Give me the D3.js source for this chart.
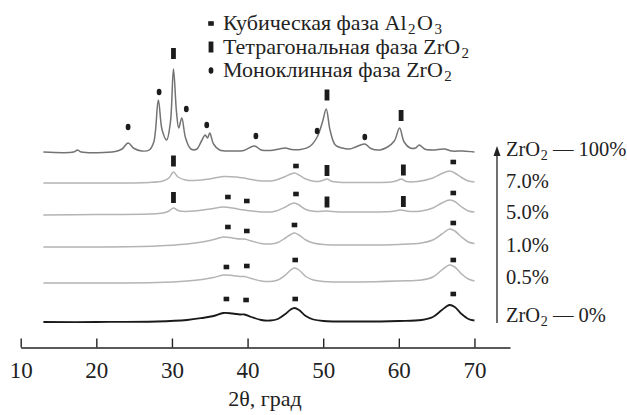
<!DOCTYPE html>
<html>
<head>
<meta charset="utf-8">
<script src="https://cdn.jsdelivr.net/npm/d3@7.9.0/dist/d3.min.js"></script>
<style>
  html, body { margin: 0; padding: 0; background: #fff; }
  svg { display: block; font-family: "Liberation Serif", "DejaVu Serif", serif; }
</style>
</head>
<body>
<svg id="chart" width="627" height="415"></svg>
<script>
// sample labels, bottom to top
const samples = ['ZrO2 — 0%', '0.5%', '1.0%', '5.0%', '7.0%', 'ZrO2 — 100%'];
// vertical stacking offset of each pattern (a.u.)
const offsets = [0, 39, 75, 108, 139, 170];
const colors = ['#1a1a1a', '#b4b4b4', '#b4b4b4', '#b4b4b4', '#b4b4b4', '#737373'];

// [2θ, intensity]
const zr0 = [[13,0],[20,0],[28,0.5],[32,2],[34,4],[35.5,6],[36.8,9],[38,8.5],[39,7.5],[39.6,7.5],[40.5,5],[41.8,2],[43,1.5],[44,3],[45,8],[45.7,12.5],[46.2,14],[46.8,12],[47.7,6],[48.7,2.5],[50,1],[55,0.5],[60,1],[63,2],[64.5,5],[65.7,12],[66.7,17],[67.4,15],[68.3,8],[69.2,3],[70,1.5]];
const zr05 = [[13,0],[20,0],[28,0.5],[32,2],[34,3.5],[35.5,5.5],[36.8,8],[38,7.5],[39,6.5],[39.6,6.5],[40.5,4.5],[41.8,2],[43,1.5],[44,3],[45,8],[45.7,13],[46.2,15],[46.8,13],[47.7,6.5],[48.7,3],[50,1.5],[55,1],[60,2],[63,3],[64.5,6],[65.7,13],[66.7,18],[67.4,16],[68.3,9],[69.2,4],[70,2]];
const zr1 = [[13,0],[20,0],[28,1],[32,3],[34,5],[35.5,7.5],[36.8,10],[38,9],[39,8],[39.6,8],[40.5,6],[41.8,3.5],[43,3],[44,4.5],[45,9],[45.7,12.5],[46.2,14],[46.8,12],[47.7,7],[48.7,4],[50,2.5],[55,2],[60,2.5],[63,4],[64.5,7],[65.7,13],[66.7,18],[67.4,16],[68.3,10],[69.2,5],[70,3.5]];
const zr5 = [[13,-1],[20,-0.5],[27,0],[28.8,1],[29.6,3],[30.2,6],[30.8,3.5],[31.8,2.5],[33,3],[35,5],[36.8,7],[38,6],[39,4.5],[39.6,4],[40.5,3],[42,2],[43.5,2.5],[45,7],[45.7,10],[46.2,11],[46.8,9],[47.7,4.5],[49,2.5],[50.5,3],[52,2],[55,2],[59,2.5],[60.2,4],[61.5,2.5],[63,3],[64.5,6],[65.7,11],[66.7,14],[67.4,12.5],[68.3,7],[69.2,3],[70,2]];
const zr7 = [[13,0],[20,0],[27,0.5],[28.8,2],[29.6,5],[30.2,11],[30.8,6],[31.8,3],[33,2.5],[35,4],[36.8,6.5],[38.5,6],[39.5,5],[40.5,3.5],[42,2],[43.5,2.5],[45,6.5],[45.7,9],[46.2,10],[46.8,8],[47.7,4],[49,1.5],[49.9,2.5],[50.5,4],[51.2,1.5],[53,0.5],[56,0.5],[59,1],[59.8,2.5],[60.3,4],[61,1.5],[62.5,1.5],[64.5,5],[65.7,9.5],[66.7,12],[67.4,10],[68.3,5.5],[69.2,2],[70,1]];
const zr100 = [[13,0],[17,0],[17.5,2],[18,0],[22.5,0.5],[23.4,3],[24.2,9],[25,3.5],[26,1],[27,2],[27.6,10],[28.2,52],[28.7,22],[29.3,12],[29.8,30],[30.2,83],[30.6,40],[30.9,24],[31.3,34],[31.8,14],[32.5,3],[33.3,3],[33.9,11],[34.4,17],[34.7,14],[35.0,19],[35.5,8],[36.3,2],[38,1],[39.5,1.5],[40.9,6],[41.8,2],[43,1.5],[44.2,3],[45,4],[45.8,2.5],[47,2.5],[48.3,6],[49.2,15],[49.9,30],[50.4,43],[50.9,22],[51.6,7],[52.5,4],[53.5,3],[54.3,5],[55.5,8],[56.3,3.5],[57.5,2],[58.5,5],[59.4,11],[60.1,24],[60.7,10],[61.5,4],[62.2,4],[62.7,7],[63.4,3],[64.5,2],[66,3],[67,1],[68.5,1],[70,0]];
const patterns = [zr0, zr05, zr1, zr5, zr7, zr100];

// phase markers: [type, 2θ, height above the pattern's offset]; c = cubic Al2O3, t = tetragonal ZrO2, m = monoclinic ZrO2
const marks0 = [['c',37.2,23],['c',39.8,22],['c',46.3,23],['c',67.2,28]];
const marks05 = [['c',37.2,16],['c',39.9,17],['c',46.3,23],['c',67.2,23]];
const marks1 = [['c',37.4,20],['c',39.9,16],['c',46.2,22],['c',67.2,24]];
const marks5 = [['t',30.2,16.5],['c',37.4,17],['c',39.9,13],['c',46.4,20],['t',50.5,12],['t',60.6,12.5],['c',67.2,21]];
const marks7 = [['t',30.2,22],['c',46.4,17],['t',50.5,12.5],['t',60.6,13],['c',67.2,21]];
const marks100 = [['m',24.2,25],['m',28.3,60],['t',30.2,98.5],['m',31.9,43],['m',34.6,27],['m',41.1,16],['m',49.2,21],['t',50.5,57],['m',55.5,15],['t',60.3,36.5]];
const markSets = [marks0, marks05, marks1, marks5, marks7, marks100];

const legendTypes = ['c', 't', 'm'];
const legendLabels = [['Кубическая фаза Al', '2', 'O', '3'], ['Тетрагональная фаза ZrO', '2'], ['Моноклинная фаза ZrO', '2']];

const xTicks = [10, 20, 30, 40, 50, 60, 70];
const xTitle = '2θ, град';

const svg = d3.select('#chart');

const x = d3.scaleLinear().domain([10, 74.7]).range([20.7, 510]);
const y = d3.scaleLinear().domain([0, 280]).range([322, 42]);

// axis with ticks pointing up
const axis = d3.axisBottom(x).tickValues(xTicks).tickSizeInner(-9).tickSizeOuter(0).tickPadding(14);
const gx = svg.append('g').attr('transform', 'translate(0,347.5)').call(axis);
gx.select('.domain').attr('stroke', '#222').attr('stroke-width', 1.4);
gx.selectAll('.tick line').attr('stroke', '#222').attr('stroke-width', 1.4);
gx.selectAll('.tick text').attr('font-size', 23).attr('fill', '#222')
  .attr('font-family', '"Liberation Serif", serif');

svg.append('text').attr('x', 265).attr('y', 406).attr('text-anchor', 'middle')
  .attr('font-size', 22).attr('fill', '#222').text(xTitle);

// patterns
const line = d3.line().curve(d3.curveCatmullRom.alpha(0.5));
patterns.forEach((pts, i) => {
  svg.append('path')
    .attr('d', line(pts.map(([t, v]) => [x(t), y(v + offsets[i])])))
    .attr('fill', 'none')
    .attr('stroke', colors[i])
    .attr('stroke-width', i === 0 ? 1.8 : 1.5)
    .attr('stroke-linejoin', 'round');
});

// marker glyphs
function drawMark(g, type, cx, cy) {
  if (type === 'c') {
    g.append('rect').attr('x', cx - 2.8).attr('y', cy - 2.3).attr('width', 5.6).attr('height', 4.6).attr('fill', '#1c1c1c');
  } else if (type === 't') {
    g.append('rect').attr('x', cx - 2.4).attr('y', cy - 5.5).attr('width', 4.8).attr('height', 11).attr('fill', '#1c1c1c');
  } else {
    g.append('ellipse').attr('cx', cx).attr('cy', cy).attr('rx', 2.4).attr('ry', 3.2).attr('fill', '#1c1c1c');
  }
}

const gm = svg.append('g');
markSets.forEach((set, i) => {
  set.forEach(([type, t, h]) => drawMark(gm, type, x(t), y(h + offsets[i])));
});

// legend
const gl = svg.append('g').attr('fill', '#222');
legendTypes.forEach((type, i) => {
  const by = 30 + i * 23.5;
  drawMark(gl, type, 211, by - 6.5);
  const txt = gl.append('text').attr('x', 223).attr('y', by);
  legendLabels[i].forEach((part, k) => {
    const sub = k % 2 === 1;
    txt.append('tspan')
      .attr('font-size', sub ? 15 : 22)
      .attr('dy', sub ? 4 : (k > 0 ? -4 : 0))
      .attr('dx', k > 0 ? 1.5 : 0)
      .text(part);
  });
});

// sample labels on the right
const labelY = [322, 284, 252, 219, 188, 155.5];
const gs = svg.append('g').attr('font-size', 20.5).attr('fill', '#222');
samples.forEach((s, i) => {
  const txt = gs.append('text').attr('x', 506).attr('y', labelY[i]);
  if (s.startsWith('ZrO2')) {
    txt.append('tspan').text('ZrO');
    txt.append('tspan').attr('font-size', 14).attr('dy', 4).attr('dx', 0.6).text('2');
    txt.append('tspan').attr('dy', -4).text(s.slice(4));
  } else {
    txt.text(s);
  }
});

// arrow of increasing ZrO2 content
svg.append('line').attr('x1', 497).attr('x2', 497).attr('y1', 323).attr('y2', 154)
  .attr('stroke', '#222').attr('stroke-width', 1.3);
svg.append('path').attr('d', 'M497,146 L493.5,156 L500.5,156 Z').attr('fill', '#222');
</script>
</body>
</html>
